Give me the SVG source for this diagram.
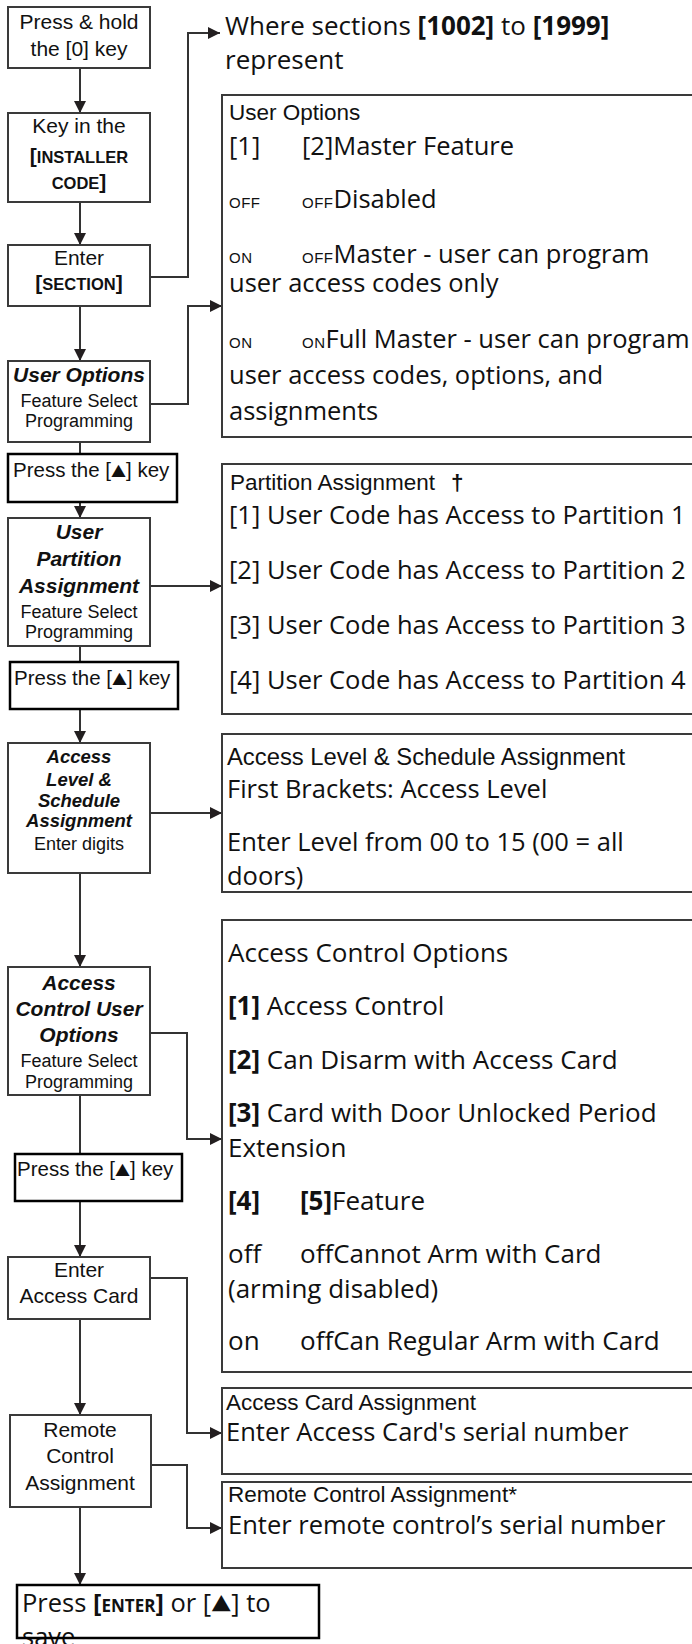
<svg xmlns="http://www.w3.org/2000/svg" width="692" height="1644" viewBox="0 0 692 1644">
<style>
.box{fill:#fff;stroke:#3a3a3a;stroke-width:2}
.pbox{fill:#fff;stroke:#000;stroke-width:2.5}
.panel{fill:#fff;stroke:#3a3a3a;stroke-width:2}
.conn{fill:none;stroke:#333;stroke-width:2}
.bx{font-family:"Liberation Sans",Arial,sans-serif;font-size:21px;fill:#111;text-anchor:middle}
.bi{font-family:"Liberation Sans",Arial,sans-serif;font-size:21px;font-weight:bold;font-style:italic;fill:#111;text-anchor:middle}
.bis{font-family:"Liberation Sans",Arial,sans-serif;font-size:18.5px;font-weight:bold;font-style:italic;fill:#111;text-anchor:middle}
.fs{font-family:"Liberation Sans",Arial,sans-serif;font-size:18px;fill:#111;text-anchor:middle}
.pk{font-family:"Liberation Sans",Arial,sans-serif;font-size:20.5px;fill:#111}
.tri{font-family:"Noto Sans CJK JP","DejaVu Sans",sans-serif;font-size:15px}
.br{font-weight:bold}
.scb{font-weight:bold;font-size:16.5px}
.lbl{font-family:"Liberation Sans",Arial,sans-serif;font-size:22.5px;fill:#111}
.big{font-family:"Open Sans","Noto Sans",sans-serif;font-size:25.5px;fill:#111}
.big26{font-family:"Open Sans","Noto Sans",sans-serif;font-size:26px;fill:#111}
.sc{font-family:"Liberation Sans",Arial,sans-serif;font-size:15px;letter-spacing:0.5px}
.bb{font-weight:bold}
</style>
<defs>
<marker id="ah" viewBox="0 0 12 12" refX="12" refY="6" markerWidth="12" markerHeight="12" markerUnits="userSpaceOnUse" orient="auto">
<path d="M0,0 L12,6 L0,12 z" fill="#231f20"/>
</marker>
</defs>
<rect x="0" y="0" width="692" height="1644" fill="#fff"/>

<g id="connectors">
<path class="conn" d="M80,68 V113" marker-end="url(#ah)"/>
<path class="conn" d="M80,202 V245" marker-end="url(#ah)"/>
<path class="conn" d="M150,277 H188 V33 H220" marker-end="url(#ah)"/>
<path class="conn" d="M80,306 V361" marker-end="url(#ah)"/>
<path class="conn" d="M150,404 H188 V306 H222" marker-end="url(#ah)"/>
<path class="conn" d="M80,442 V454"/>
<path class="conn" d="M80,502 V518" marker-end="url(#ah)"/>
<path class="conn" d="M150,586 H222" marker-end="url(#ah)"/>
<path class="conn" d="M80,646 V662"/>
<path class="conn" d="M80,709 V743" marker-end="url(#ah)"/>
<path class="conn" d="M150,813 H222" marker-end="url(#ah)"/>
<path class="conn" d="M80,873 V967" marker-end="url(#ah)"/>
<path class="conn" d="M150,1033 H187 V1139 H222" marker-end="url(#ah)"/>
<path class="conn" d="M80,1095 V1154"/>
<path class="conn" d="M80,1201 V1257" marker-end="url(#ah)"/>
<path class="conn" d="M150,1278 H187 V1433 H222" marker-end="url(#ah)"/>
<path class="conn" d="M80,1319 V1415" marker-end="url(#ah)"/>
<path class="conn" d="M151,1465 H187 V1528 H222" marker-end="url(#ah)"/>
<path class="conn" d="M80,1507 V1585" marker-end="url(#ah)"/>
</g>

<g id="n-press-hold">
<rect class="box" x="8" y="7" width="142" height="61"/>
<text class="bx" x="79" y="29">Press &amp; hold</text>
<text class="bx" x="79" y="56">the [0] key</text>
</g>
<g id="n-installer">
<rect class="box" x="8" y="113" width="142" height="89"/>
<text class="bx" x="79" y="133">Key in the</text>
<text class="bx" x="79" y="163"><tspan class="br">[</tspan><tspan class="scb">INSTALLER</tspan></text>
<text class="bx" x="79" y="189"><tspan class="scb">CODE</tspan><tspan class="br">]</tspan></text>
</g>
<g id="n-section">
<rect class="box" x="8" y="245" width="142" height="61"/>
<text class="bx" x="79" y="265">Enter</text>
<text class="bx" x="79" y="290"><tspan class="br">[</tspan><tspan class="scb">SECTION</tspan><tspan class="br">]</tspan></text>
</g>
<g id="n-user-options">
<rect class="box" x="8" y="361" width="142" height="81"/>
<text class="bi" x="79" y="382">User Options</text>
<text class="fs" x="79" y="407">Feature Select</text>
<text class="fs" x="79" y="427">Programming</text>
</g>
<g id="n-press1">
<rect class="pbox" x="8" y="454" width="169" height="48"/>
<text class="pk" x="13" y="477">Press the [<tspan class="tri">▲</tspan>] key</text>
</g>
<g id="n-partition">
<rect class="box" x="8" y="518" width="142" height="128"/>
<text class="bi" x="79" y="539">User</text>
<text class="bi" x="79" y="566">Partition</text>
<text class="bi" x="79" y="593">Assignment</text>
<text class="fs" x="79" y="618">Feature Select</text>
<text class="fs" x="79" y="638">Programming</text>
</g>
<g id="n-press2">
<rect class="pbox" x="10" y="662" width="168" height="47"/>
<text class="pk" x="14" y="685">Press the [<tspan class="tri">▲</tspan>] key</text>
</g>
<g id="n-access-level">
<rect class="box" x="8" y="743" width="142" height="130"/>
<text class="bis" x="79" y="763">Access</text>
<text class="bis" x="79" y="786">Level &amp;</text>
<text class="bis" x="79" y="807">Schedule</text>
<text class="bis" x="79" y="827">Assignment</text>
<text class="fs" x="79" y="850">Enter digits</text>
</g>
<g id="n-access-control">
<rect class="box" x="8" y="967" width="142" height="128"/>
<text class="bi" x="79" y="990">Access</text>
<text class="bi" x="79" y="1016">Control User</text>
<text class="bi" x="79" y="1042">Options</text>
<text class="fs" x="79" y="1067">Feature Select</text>
<text class="fs" x="79" y="1088">Programming</text>
</g>
<g id="n-press3">
<rect class="pbox" x="15" y="1154" width="167" height="47"/>
<text class="pk" x="17" y="1176">Press the [<tspan class="tri">▲</tspan>] key</text>
</g>
<g id="n-access-card">
<rect class="box" x="8" y="1257" width="142" height="62"/>
<text class="bx" x="79" y="1277">Enter</text>
<text class="bx" x="79" y="1303">Access Card</text>
</g>
<g id="n-remote">
<rect class="box" x="10" y="1415" width="141" height="92"/>
<text class="bx" x="80" y="1437">Remote</text>
<text class="bx" x="80" y="1463">Control</text>
<text class="bx" x="80" y="1490">Assignment</text>
</g>
<g id="n-save">
<text class="big" x="22" y="1646">save</text>
<rect class="pbox" x="17" y="1585" width="302" height="53" style="fill:none"/>
<text class="big" x="22" y="1612">Press <tspan class="bb">[</tspan><tspan class="bb" style="font-size:17px">ENTER</tspan><tspan class="bb">]</tspan> or [<tspan class="tri" style="font-size:20px">▲</tspan>] to</text>
</g>

<g id="n-where">
<text class="big26" x="225" y="35">Where sections <tspan class="bb">[1002]</tspan> to <tspan class="bb">[1999]</tspan></text>
<text class="big26" x="225" y="69">represent</text>
</g>

<g id="p-user-options">
<rect class="panel" x="222" y="95" width="480" height="342"/>
<text class="lbl" x="229" y="120">User Options</text>
<text class="big" y="155"><tspan x="229">[1]</tspan><tspan x="302">[2]Master Feature</tspan></text>
<text class="big" y="208"><tspan x="229" class="sc">OFF</tspan><tspan x="302" class="sc">OFF</tspan>Disabled</text>
<text class="big" y="263"><tspan x="229" class="sc">ON</tspan><tspan x="302" class="sc">OFF</tspan>Master - user can program</text>
<text class="big" x="229" y="292">user access codes only</text>
<text class="big" y="348"><tspan x="229" class="sc">ON</tspan><tspan x="302" class="sc">ON</tspan>Full Master - user can program</text>
<text class="big" x="229" y="384">user access codes, options, and</text>
<text class="big" x="229" y="420">assignments</text>
</g>

<g id="p-partition">
<rect class="panel" x="222" y="464" width="480" height="250"/>
<text class="lbl" x="230" y="490">Partition Assignment<tspan x="451" class="bb">†</tspan></text>
<text class="big" x="229" y="524">[1] User Code has Access to Partition 1</text>
<text class="big" x="229" y="579">[2] User Code has Access to Partition 2</text>
<text class="big" x="229" y="634">[3] User Code has Access to Partition 3</text>
<text class="big" x="229" y="689">[4] User Code has Access to Partition 4</text>
</g>

<g id="p-access-level">
<rect class="panel" x="222" y="734" width="480" height="158"/>
<text class="lbl" x="227" y="765" style="font-size:23.8px">Access Level &amp; Schedule Assignment</text>
<text class="big" x="227" y="798">First Brackets: Access Level</text>
<text class="big" x="227" y="851">Enter Level from 00 to 15 (00 = all</text>
<text class="big" x="227" y="885">doors)</text>
</g>

<g id="p-access-control">
<rect class="panel" x="222" y="920" width="480" height="452"/>
<text class="big26" x="228" y="962">Access Control Options</text>
<text class="big26" x="228" y="1015"><tspan class="bb">[1]</tspan> Access Control</text>
<text class="big26" x="228" y="1069"><tspan class="bb">[2]</tspan> Can Disarm with Access Card</text>
<text class="big26" x="228" y="1122"><tspan class="bb">[3]</tspan> Card with Door Unlocked Period</text>
<text class="big26" x="228" y="1157">Extension</text>
<text class="big26" y="1210"><tspan x="228" class="bb">[4]</tspan><tspan x="300" class="bb">[5]</tspan>Feature</text>
<text class="big26" y="1263"><tspan x="228">off</tspan><tspan x="300">offCannot Arm with Card</tspan></text>
<text class="big26" x="228" y="1298">(arming disabled)</text>
<text class="big26" y="1350"><tspan x="228">on</tspan><tspan x="300">offCan Regular Arm with Card</tspan></text>
</g>

<g id="p-access-card">
<rect class="panel" x="222" y="1388" width="480" height="86"/>
<text class="lbl" x="226" y="1410">Access Card Assignment</text>
<text class="big" x="226" y="1441">Enter Access Card's serial number</text>
</g>

<g id="p-remote">
<rect class="panel" x="222" y="1482" width="480" height="86"/>
<text class="lbl" x="228" y="1502">Remote Control Assignment*</text>
<text class="big" x="228" y="1534">Enter remote control’s serial number</text>
</g>
</svg>
